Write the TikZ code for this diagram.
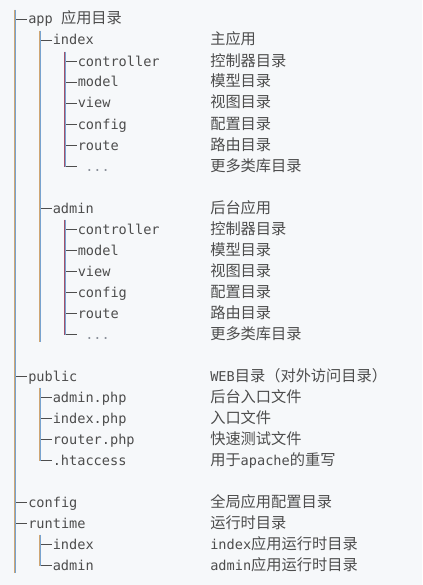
\documentclass[tikz,border=0pt]{standalone}
\usepackage{fontspec}
\setmonofont{DejaVu Sans Mono}
\newfontfamily\cjk[Scale=1.12]{Noto Sans CJK SC}
\usepackage{xcolor,tikz}
\usetikzlibrary{calc}
\definecolor{treeBg}{HTML}{F6F8FA}
\definecolor{treeText}{HTML}{4D4D4D}
\definecolor{treeDots}{HTML}{8A909A}
\definecolor{barOrange}{HTML}{CFA673}
\definecolor{barRed}{HTML}{A2516A}
\definecolor{barBlue}{HTML}{78A3CF}

\newcommand\latn[1]{{\ttfamily #1}}
% two thin strokes per bar, like the screen's coloured glyph edges
\newcommand\treebar[3][barOrange]{%
  \draw[line width=0.6pt, #1] ([xshift=-0.4]#2) -- ([xshift=-0.4]#3);
  \draw[line width=0.6pt, barBlue] ([xshift=0.4]#2) -- ([xshift=0.4]#3);}

\tikzset{
  entry/.style={anchor=base west, inner sep=0pt, text=treeText,
    font=\ttfamily\fontsize{10.2}{12}\selectfont},
  descr/.style={entry, font=\cjk\fontsize{10.2}{12}\selectfont},
  stub/.style={draw=treeText, line width=0.75pt}
}

\begin{document}
\begin{tikzpicture}[x=0.75pt, y=-0.75pt]

\def\rowA{19.7}     % centre of first row
\def\rowH{21}       % line pitch
\def\barL{15}
\def\barM{40}
\def\barN{65}
\def\descX{210}

\useasboundingbox[fill=treeBg] (0,0) rectangle (422,585);

% --- TREE ENTRIES (left column) ---
\foreach \r/\bx/\tx/\nm/\txt in {
    0/\barL/28/app/{app \cjk 应用目录},
    1/\barM/52.5/index/index,
    2/\barN/77.5/ixController/controller,
    3/\barN/77.5/ixModel/model,
    4/\barN/77.5/ixView/view,
    5/\barN/77.5/ixConfig/config,
    6/\barN/77.5/ixRoute/route,
    7/\barN/85/ixMore/{\color{treeDots}...},
    9/\barM/52.5/admin/admin,
    10/\barN/77.5/adController/controller,
    11/\barN/77.5/adModel/model,
    12/\barN/77.5/adView/view,
    13/\barN/77.5/adConfig/config,
    14/\barN/77.5/adRoute/route,
    15/\barN/85/adMore/{\color{treeDots}...},
    17/\barL/28/public/public,
    18/\barM/52.5/pubAdmin/admin.php,
    19/\barM/52.5/pubIndex/index.php,
    20/\barM/52.5/pubRouter/router.php,
    21/\barM/52.5/pubHtaccess/.htaccess,
    23/\barL/28/config/config,
    24/\barL/28/runtime/runtime,
    25/\barM/52.5/rtIndex/index,
    26/\barM/52.5/rtAdmin/admin} {
  \pgfmathsetmacro\yc{\rowA + \rowH*\r}
  \pgfmathsetmacro\gap{(\tx - \bx - 12)*0.75}
  \node[entry] (\nm) at (\tx, \yc + 4.3) {\txt};
  \coordinate (j\nm) at (\bx, \yc);
  \draw[stub, shorten >=\gap pt] (j\nm) -- (j\nm -| \nm.west);
}

% --- DESCRIPTIONS (right column) ---
\foreach \r/\nm/\txt in {
    1/index/主应用,
    2/ixController/控制器目录,
    3/ixModel/模型目录,
    4/ixView/视图目录,
    5/ixConfig/配置目录,
    6/ixRoute/路由目录,
    7/ixMore/更多类库目录,
    9/admin/后台应用,
    10/adController/控制器目录,
    11/adModel/模型目录,
    12/adView/视图目录,
    13/adConfig/配置目录,
    14/adRoute/路由目录,
    15/adMore/更多类库目录,
    17/public/{\latn{WEB}目录（对外访问目录）},
    18/pubAdmin/后台入口文件,
    19/pubIndex/入口文件,
    20/pubRouter/快速测试文件,
    21/pubHtaccess/{用于\latn{apache}的重写},
    23/config/全局应用配置目录,
    24/runtime/运行时目录,
    25/rtIndex/{\latn{index}应用运行时目录},
    26/rtAdmin/{\latn{admin}应用运行时目录}} {
  \pgfmathsetmacro\yc{\rowA + \rowH*\r}
  \node[descr] (d\nm) at (\descX, \yc + 4.3) {\txt};
}

% --- VERTICAL BARS ---
\coordinate (rootTop) at (\barL, {\rowA - 10});
\coordinate (rootEnd) at (\barL, {\rowA + \rowH*26 + 7.5});
\coordinate (appTop)  at (\barM, {\rowA + \rowH*1 - 10});
\coordinate (appEnd)  at (\barM, {\rowA + \rowH*15 + 7.5});
\coordinate (ixTop)   at (\barN, {\rowA + \rowH*2 - 10});
\coordinate (adTop)   at (\barN, {\rowA + \rowH*10 - 10});
\coordinate (pubTop)  at (\barM, {\rowA + \rowH*18 - 10});
\coordinate (rtTop)   at (\barM, {\rowA + \rowH*25 - 10});

\treebar{rootTop}{rootEnd}
\treebar{appTop}{appEnd}
\treebar[barRed]{ixTop}{jixMore}
\treebar[barRed]{adTop}{jadMore}
\treebar{pubTop}{jpubHtaccess}
\treebar{rtTop}{jrtAdmin}

\end{tikzpicture}
\end{document}
